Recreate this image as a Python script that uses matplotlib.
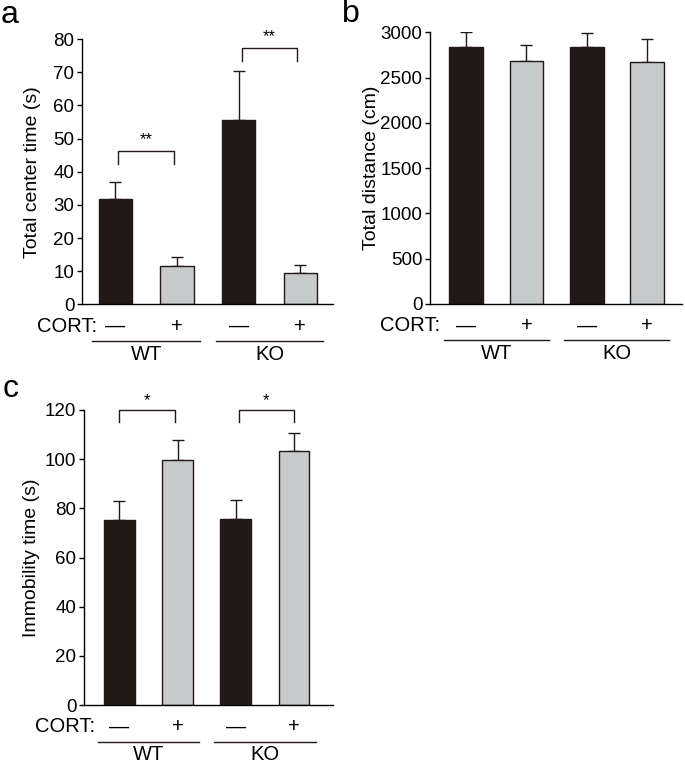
import matplotlib
matplotlib.use("Agg")
import matplotlib.pyplot as plt
import matplotlib.transforms as mtransforms

plt.rcParams['font.family'] = ['Liberation Sans', 'DejaVu Sans']

cort_labels = ["\u2014", "+", "\u2014", "+"]
groups = ["WT", "KO"]

center_time = [31.9, 11.7, 55.7, 9.5]
center_err = [5.1, 2.5, 14.8, 2.5]

distance = [2834, 2683, 2834, 2672]
distance_err = [166, 173, 155, 251]

immobility = [75.3, 99.7, 75.5, 103.3]
immobility_err = [7.8, 8.1, 7.9, 7.5]

bar_colors = ["#231815", "#c8c9ca", "#231815", "#c8c9ca"]

W, H = 685, 765
fig = plt.figure(figsize=(W / 100, H / 100), dpi=100)

TICK_FS = 13.5
LAB_FS = 14
CORT_FS = 14.5


def ax_rect(l, r, t, b):
    return [l / W, 1 - b / H, (r - l) / W, (b - t) / H]


def panel(rect, vals, errs, ylim, yticks, ylabel, xlim, width, letter, letter_xy,
          cort_x, ylabel_x, sig=None, letter_bold=False):
    ax = fig.add_axes(ax_rect(*rect))
    x = list(range(len(vals)))
    ax.bar(x, vals, width=width, color=bar_colors, edgecolor="#231815", linewidth=1.0, zorder=2)
    ax.errorbar(x, vals, yerr=[[0] * len(errs), errs], fmt="none", ecolor="#231815",
                elinewidth=1.0, capsize=4.5, capthick=1.0, zorder=1)
    ax.set_ylim(*ylim)
    ax.set_xlim(*xlim)
    ax.set_yticks(yticks)
    ax.set_xticks([])
    for s in ["top", "right"]:
        ax.spines[s].set_visible(False)
    ax.spines["left"].set_linewidth(1.0)
    ax.spines["bottom"].set_linewidth(1.0)
    ax.tick_params(axis="y", direction="out", length=3.5, width=1.0, labelsize=TICK_FS, pad=2)
    ax.set_ylabel(ylabel, fontsize=LAB_FS)
    ax.yaxis.set_label_coords((ylabel_x - rect[0]) / (rect[1] - rect[0]), 0.5)
    trans = mtransforms.blended_transform_factory(ax.transData, ax.transAxes)
    axh = rect[3] - rect[2]
    y_cort = -22 / axh
    y_line = -36.5 / axh
    y_grp = -50 / axh
    for xi, lab in zip(x, cort_labels):
        ax.text(xi, y_cort, lab, transform=trans, ha="center", va="center", fontsize=CORT_FS)
    ax.text((cort_x - rect[0]) / (rect[1] - rect[0]), y_cort, "CORT:", transform=ax.transAxes,
            ha="right", va="center", fontsize=CORT_FS)
    for gi, g in enumerate(groups):
        x0, x1 = 2 * gi - 0.37, 2 * gi + 1.37
        ax.plot([x0, x1], [y_line, y_line], transform=trans, color="#231815", lw=1.0, clip_on=False)
        ax.text(2 * gi + 0.5, y_grp, g, transform=trans, ha="center", va="center", fontsize=CORT_FS)
    if sig:
        for (xa, xb, yb, drop, lab, ys) in sig:
            ax.plot([xa, xa, xb, xb], [yb - drop, yb, yb, yb - drop], color="#231815", lw=1.0,
                    clip_on=False)
            ax.text((xa + xb) / 2, ys, lab, ha="center", va="center", fontsize=12, clip_on=False)
    fig.text(letter_xy[0] / W, 1 - letter_xy[1] / H, letter, fontsize=23,
             fontweight="bold" if letter_bold else "normal", ha="left", va="center")
    return ax


panel((82, 333, 39, 304.5), center_time, center_err, (0, 80), range(0, 81, 10),
      "Total center time (s)", (-0.54, 3.53), 0.54, "a", (1, 15), 97, 41,
      sig=[(0.05, 0.95, 46.4, 4.0, "**", 49.6), (2.05, 2.95, 77.4, 4.0, "**", 80.8)])

panel((430, 682, 32.3, 304), distance, distance_err, (0, 3000), range(0, 3001, 500),
      "Total distance (cm)", (-0.6, 3.58), 0.56, "b", (342, 14), 440, 380)

panel((84, 333, 410, 705), immobility, immobility_err, (0, 120), range(0, 121, 20),
      "Immobility time (s)", (-0.61, 3.67), 0.53, "c", (3, 389), 95, 40,
      sig=[(0.0, 0.95, 120, 5.0, "*", 124), (2.05, 3.0, 120, 5.0, "*", 124)])

fig.savefig("out.png", dpi=100)
